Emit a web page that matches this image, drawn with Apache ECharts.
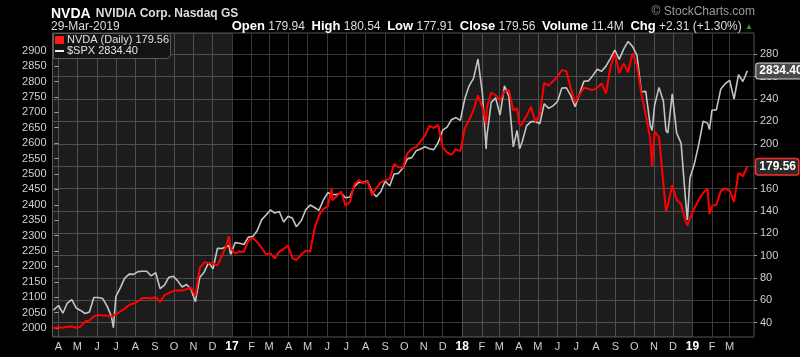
<!DOCTYPE html>
<html><head><meta charset="utf-8">
<script src="https://cdn.jsdelivr.net/npm/echarts@6/dist/echarts.min.js"></script>
<style>html,body{margin:0;padding:0;background:#000;}#c{width:800px;height:357px;}</style>
</head><body><div id="c"></div>
<script>
// ---- data ----
const d16 = ['2016-03-24','2016-04-01','2016-04-08','2016-04-15','2016-04-22','2016-04-29','2016-05-06','2016-05-13','2016-05-20','2016-05-27','2016-06-03','2016-06-10','2016-06-17','2016-06-24','2016-06-27','2016-07-01','2016-07-08','2016-07-15','2016-07-22','2016-07-29','2016-08-05','2016-08-12','2016-08-19','2016-08-26','2016-09-02','2016-09-09','2016-09-16','2016-09-23','2016-09-30','2016-10-07','2016-10-14','2016-10-21','2016-10-28','2016-11-04','2016-11-11','2016-11-18','2016-11-25','2016-12-02','2016-12-09','2016-12-16','2016-12-23','2016-12-27','2016-12-30'];
const spx16 = [2058,2073,2048,2081,2092,2065,2057,2047,2052,2099,2099,2096,2071,2037,2001,2103,2130,2162,2175,2174,2183,2184,2184,2169,2180,2128,2139,2165,2168,2153,2133,2141,2126,2085,2164,2182,2213,2192,2259,2258,2264,2268,2239];
const nvda16 = [35.2,36.0,35.5,36.3,36.6,35.5,36.4,41.0,42.0,45.8,46.9,46.5,46.1,45.6,44.9,47.2,50.0,52.6,55.8,57.1,59.0,62.0,62.0,61.7,63.0,58.5,64.7,66.4,68.5,68.9,68.8,69.9,71.5,64.0,88.9,94.0,93.3,93.0,91.0,99.7,108.5,117.3,106.7];

const d17 = ['2017-01-06','2017-01-13','2017-01-20','2017-01-27','2017-02-03','2017-02-10','2017-02-17','2017-02-24','2017-03-03','2017-03-10','2017-03-17','2017-03-24','2017-03-31','2017-04-07','2017-04-13','2017-04-21','2017-04-28','2017-05-05','2017-05-12','2017-05-19','2017-05-26','2017-06-02','2017-06-08','2017-06-09','2017-06-16','2017-06-23','2017-06-30','2017-07-07','2017-07-14','2017-07-21','2017-07-28','2017-08-04','2017-08-11','2017-08-18','2017-08-25','2017-09-01','2017-09-08','2017-09-15','2017-09-22','2017-09-29','2017-10-06','2017-10-13','2017-10-20','2017-10-27','2017-11-03','2017-11-10','2017-11-17','2017-11-24','2017-12-01','2017-12-08','2017-12-15','2017-12-22','2017-12-29'];
const spx17 = [2277,2275,2271,2295,2297,2316,2351,2367,2383,2373,2378,2344,2363,2356,2329,2349,2384,2399,2391,2382,2416,2439,2434,2432,2433,2438,2423,2425,2459,2473,2472,2477,2441,2426,2443,2477,2461,2500,2502,2519,2549,2553,2575,2581,2588,2582,2579,2602,2642,2652,2676,2683,2674];
const nvda17 = [102.0,103.7,103.5,113.4,116.0,112.0,107.0,101.3,102.0,97.5,103.6,106.1,108.9,97.6,96.0,101.0,104.4,103.7,124.4,136.0,141.8,144.2,160.0,149.6,153.0,157.4,144.6,147.9,163.6,167.5,164.9,166.0,154.0,160.6,165.5,167.6,168.3,182.0,179.0,178.8,191.4,195.5,197.2,202.1,207.2,216.1,214.1,216.9,197.0,192.4,190.2,195.3,193.5];

const d18 = ['2018-01-05','2018-01-12','2018-01-19','2018-01-26','2018-02-02','2018-02-08','2018-02-09','2018-02-16','2018-02-23','2018-03-02','2018-03-09','2018-03-16','2018-03-23','2018-03-29','2018-04-02','2018-04-06','2018-04-13','2018-04-20','2018-04-27','2018-05-04','2018-05-11','2018-05-18','2018-05-25','2018-06-01','2018-06-08','2018-06-15','2018-06-22','2018-06-29','2018-07-06','2018-07-13','2018-07-20','2018-07-27','2018-08-03','2018-08-10','2018-08-17','2018-08-24','2018-08-31','2018-09-07','2018-09-14','2018-09-21','2018-09-28','2018-10-05','2018-10-12','2018-10-19','2018-10-26','2018-10-29','2018-11-02','2018-11-09','2018-11-16','2018-11-20','2018-11-23','2018-11-30','2018-12-07','2018-12-14','2018-12-21','2018-12-24','2018-12-28'];
const spx18 = [2743,2786,2810,2873,2762,2581,2620,2732,2747,2691,2786,2752,2588,2641,2582,2604,2656,2670,2670,2663,2728,2713,2721,2735,2779,2780,2755,2718,2760,2801,2802,2819,2840,2833,2850,2875,2902,2872,2905,2930,2914,2886,2767,2768,2659,2641,2723,2781,2736,2641,2633,2760,2633,2600,2417,2351,2486];
const nvda18 = [213.7,221.3,230.4,243.3,232.6,217.5,232.1,245.9,243.4,238.8,247.0,248.0,230.0,231.6,216.0,217.9,225.0,233.0,220.0,226.0,254.5,252.0,256.0,260.0,266.0,265.0,250.0,237.0,244.0,250.2,249.3,248.0,250.0,254.0,244.8,268.5,280.8,263.2,271.9,264.0,281.0,270.0,245.0,226.0,205.0,180.0,211.0,206.0,164.0,140.0,145.0,163.0,150.0,146.0,131.0,127.0,133.0];

const d19 = ['2019-01-04','2019-01-11','2019-01-18','2019-01-25','2019-01-28','2019-02-01','2019-02-08','2019-02-15','2019-02-22','2019-03-01','2019-03-08','2019-03-15','2019-03-22','2019-03-29'];
const spx19 = [2532,2596,2671,2665,2644,2707,2708,2776,2793,2804,2743,2822,2800,2834.40];
const nvda19 = [142.0,150.0,156.0,160.0,137.0,144.5,145.5,158.0,160.0,158.0,148.0,174.0,171.0,179.56];

const spxTicks = [2000,2050,2100,2150,2200,2250,2300,2350,2400,2450,2500,2550,2600,2650,2700,2750,2800,2850,2900];
const nvdaTicks = [40,60,80,100,120,140,160,180,200,220,240,260,280];
const monthLetters = ['J','F','M','A','M','J','J','A','S','O','N','D'];
const monthStarts = ['2016-04-01','2016-05-01','2016-06-01','2016-07-01','2016-08-01','2016-09-01','2016-10-01','2016-11-01','2016-12-01','2017-01-01','2017-02-01','2017-03-01','2017-04-01','2017-05-01','2017-06-01','2017-07-01','2017-08-01','2017-09-01','2017-10-01','2017-11-01','2017-12-01','2018-01-01','2018-02-01','2018-03-01','2018-04-01','2018-05-01','2018-06-01','2018-07-01','2018-08-01','2018-09-01','2018-10-01','2018-11-01','2018-12-01','2019-01-01','2019-02-01','2019-03-01'];
const shadedYears = [['2016-03-15','2017-01-01'],['2018-01-01','2019-01-01']];

// ---- build ----
const DAY = 86400000;
const T0 = Date.UTC(2016,3,1);
function dayNum(s){ const p = s.split('-').map(Number); return (Date.UTC(p[0],p[1]-1,p[2]) - T0) / DAY; }
const dates = d16.concat(d17, d18, d19);
const spx = spx16.concat(spx17, spx18, spx19);
const nvda = nvda16.concat(nvda17, nvda18, nvda19);
const spxData = dates.map((d,i) => [dayNum(d), spx[i]]);
const nvdaData = dates.map((d,i) => [dayNum(d), nvda[i]]);
const monthTicks = monthStarts.map(dayNum);
const FF = '"Liberation Sans", Arial, sans-serif';
const XMIN = -9.5, XMAX = 1102.6;

const chart = echarts.init(document.getElementById('c'), null, {renderer:'canvas'});
chart.setOption({
  backgroundColor: '#000',
  animation: false,
  textStyle: {fontFamily: FF},
  title: [
    {left: 51, top: 5, padding: 0, text: '{b|NVDA} {n|NVIDIA Corp. Nasdaq GS}',
     textStyle: {rich: {b: {fontSize: 14, fontWeight: 'bold', color: '#fff', fontFamily: FF}, n: {fontSize: 12, color: '#ddd', fontFamily: FF}}}},
    {left: 51, top: 21, padding: 0, text: '29-Mar-2019', textStyle: {fontSize: 12, fontWeight: 'normal', color: '#ddd', fontFamily: FF}},
    {right: 47, top: 20, padding: 0,
     text: '{b|Open} 179.94  {b|High} 180.54  {b|Low} 177.91  {b|Close} 179.56  {b|Volume} 11.4M  {b|Chg} +2.31 (+1.30%) {g|▲}',
     textStyle: {fontSize: 12, fontWeight: 'normal', color: '#ddd', fontFamily: FF,
       rich: {b: {fontSize: 13, fontWeight: 'bold', color: '#fff', fontFamily: FF}, g: {fontSize: 8, color: '#22aa22'}}}},
    {right: 45, top: 6, padding: 0, text: '© StockCharts.com', textStyle: {fontSize: 12, fontWeight: 'normal', color: '#9a9a9a', fontFamily: FF}}
  ],
  grid: {left: 52.5, right: 46, top: 33, bottom: 20, show: true, borderColor: '#555', borderWidth: 1, backgroundColor: 'transparent'},
  xAxis: {
    type: 'value', min: XMIN, max: XMAX,
    axisLine: {show: false},
    axisTick: {show: false, customValues: monthTicks},
    splitLine: {show: true, lineStyle: {color: '#3a3a3a', width: 1}},
    axisLabel: {
      customValues: monthTicks, color: '#d0d0d0', fontSize: 11, margin: 4, fontFamily: FF,
      formatter: function (v) {
        const dt = new Date(T0 + v * DAY);
        const m = dt.getUTCMonth();
        if (m === 0) return '{y|' + String(dt.getUTCFullYear()).slice(2) + '}';
        return monthLetters[m];
      },
      rich: {y: {fontSize: 12, fontWeight: 'bold', color: '#fff', fontFamily: FF}}
    }
  },
  yAxis: [
    {type: 'value', position: 'left', min: 1970.8, max: 2957.5,
     axisLine: {show: false},
     axisTick: {show: true, customValues: spxTicks, length: 4, lineStyle: {color: '#999'}},
     axisLabel: {customValues: spxTicks, color: '#d0d0d0', fontSize: 11, margin: 6, fontFamily: FF, formatter: v => String(v)},
     splitLine: {show: false}},
    {type: 'value', position: 'right', min: 27.2, max: 299.1,
     axisLine: {show: false},
     axisTick: {show: true, customValues: nvdaTicks, length: 3, lineStyle: {color: '#999'}},
     axisLabel: {customValues: nvdaTicks, color: '#d0d0d0', fontSize: 11, margin: 6, fontFamily: FF, formatter: v => String(v)},
     splitLine: {show: true, lineStyle: {color: '#3a3a3a', width: 1}}}
  ],
  graphic: [
    {type: 'rect', left: 53, top: 33, z: 100, shape: {width: 117, height: 25, r: [0,0,4,0]}, style: {fill: '#141414', stroke: '#5a5a5a', lineWidth: 1}},
    {type: 'rect', left: 55, top: 36, z: 101, shape: {width: 9, height: 8, r: 1}, style: {fill: '#ff1a1a'}},
    {type: 'text', left: 67, top: 34, z: 101, style: {text: 'NVDA (Daily) 179.56', fill: '#e0e0e0', fontSize: 11, fontFamily: FF}},
    {type: 'rect', left: 55, top: 50, z: 101, shape: {width: 9, height: 2}, style: {fill: '#eeeeee'}},
    {type: 'text', left: 67, top: 45, z: 101, style: {text: '$SPX 2834.40', fill: '#e0e0e0', fontSize: 11, fontFamily: FF}}
  ],
  series: [
    {name: '$SPX', type: 'line', xAxisIndex: 0, yAxisIndex: 0, data: spxData, showSymbol: false, symbol: 'none',
     lineStyle: {color: '#c4c4c4', width: 1.6}, z: 3,
     endLabel: {show: true, formatter: '2834.40', distance: 9, color: '#fff', fontWeight: 'bold', fontSize: 12, fontFamily: FF,
       backgroundColor: '#4a4a4a', borderColor: '#d8d8d8', borderWidth: 1, padding: [2,2,1,3], borderRadius: 2},
     markArea: {silent: true, itemStyle: {color: 'rgba(255,255,255,0.11)'},
       data: shadedYears.map(r => [{xAxis: Math.max(XMIN, dayNum(r[0]))}, {xAxis: dayNum(r[1])}])}},
    {name: 'NVDA', type: 'line', xAxisIndex: 0, yAxisIndex: 1, data: nvdaData, showSymbol: false, symbol: 'none',
     lineStyle: {color: '#ff0000', width: 2}, z: 4,
     endLabel: {show: true, formatter: '179.56', distance: 9, color: '#fff', fontWeight: 'bold', fontSize: 12, fontFamily: FF,
       backgroundColor: '#2a2a2a', borderColor: '#ff2a2a', borderWidth: 1.5, padding: [2,2,1,3], borderRadius: 2}}
  ]
});
</script></body></html>
